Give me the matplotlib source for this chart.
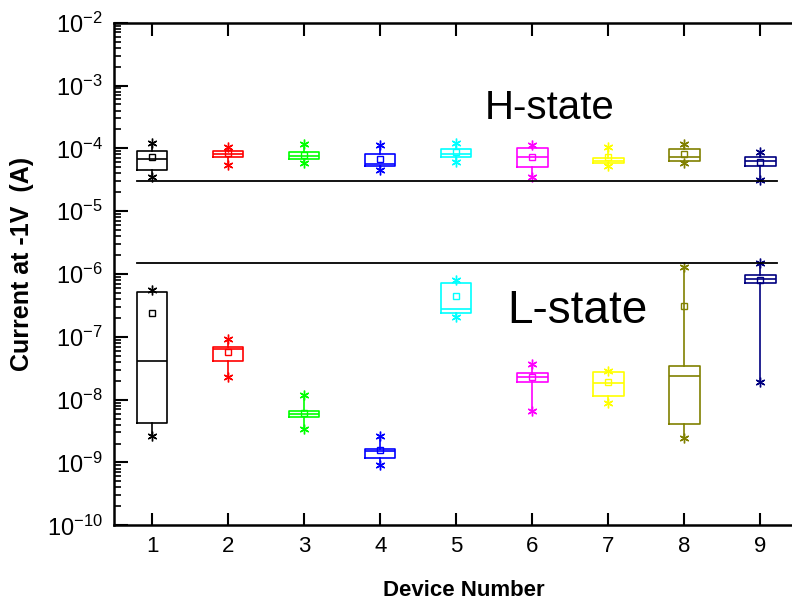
import numpy as np
import matplotlib
matplotlib.use("Agg")
import matplotlib.pyplot as plt
from matplotlib.ticker import LogLocator, NullFormatter

plt.rcParams['font.family'] = ['Liberation Sans', 'DejaVu Sans']
plt.rcParams['mathtext.default'] = 'regular'
plt.rcParams['axes.unicode_minus'] = False

devices = [1, 2, 3, 4, 5, 6, 7, 8, 9]
colors = ['black', 'red', '#00ff00', 'blue', 'cyan', 'magenta', 'yellow', '#808000', '#000080']

# H-state (A)
h_min = [3.5e-5, 5.4e-5, 5.8e-5, 4.5e-5, 6.1e-5, 3.45e-5, 5.3e-5, 5.8e-5, 3.1e-5]
h_q1 = [4.6e-5, 7.2e-5, 6.7e-5, 5.2e-5, 7.2e-5, 5.0e-5, 5.9e-5, 6.2e-5, 5.2e-5]
h_med = [6.8e-5, 8.0e-5, 7.6e-5, 5.6e-5, 8.0e-5, 7.2e-5, 6.4e-5, 7.4e-5, 6.2e-5]
h_q3 = [9.1e-5, 9.0e-5, 8.6e-5, 8.2e-5, 9.8e-5, 1.0e-4, 6.9e-5, 9.6e-5, 7.4e-5]
h_max = [1.21e-4, 1.06e-4, 1.17e-4, 1.13e-4, 1.2e-4, 1.13e-4, 1.04e-4, 1.17e-4, 8.6e-5]
h_mean = [7.3e-5, 8.3e-5, 7.9e-5, 6.7e-5, 8.8e-5, 7.3e-5, 7.2e-5, 8.2e-5, 6.1e-5]

# L-state (A)
l_min = [2.65e-9, 2.26e-8, 3.4e-9, 9.1e-10, 2.08e-7, 6.7e-9, 8.9e-9, 2.46e-9, 1.92e-8]
l_q1 = [4.3e-9, 4.1e-8, 5.3e-9, 1.18e-9, 2.38e-7, 1.88e-8, 1.14e-8, 4.1e-9, 7.2e-7]
l_med = [4.15e-8, 6.3e-8, 6.0e-9, 1.55e-9, 2.8e-7, 2.3e-8, 1.85e-8, 2.34e-8, 8.4e-7]
l_q3 = [5.2e-7, 6.85e-8, 6.7e-9, 1.65e-9, 7.2e-7, 2.67e-8, 2.74e-8, 3.38e-8, 9.7e-7]
l_max = [5.5e-7, 9.1e-8, 1.18e-8, 2.6e-9, 8.0e-7, 3.64e-8, 2.81e-8, 1.3e-6, 1.51e-6]
l_mean = [2.38e-7, 5.65e-8, 6.2e-9, 1.56e-9, 4.45e-7, 2.28e-8, 1.88e-8, 3.05e-7, 8.0e-7]

h_threshold = 3.0e-5
l_threshold = 1.5e-6

fig = plt.figure(figsize=(7.92, 6.08), dpi=100)
ax = fig.add_axes([114 / 792, 1 - 525.3 / 608, (798.5 - 114) / 792, (525.3 - 22.7) / 608])


def draw_boxes(mins, q1s, meds, q3s, maxs, means):
    for i, x in enumerate(devices):
        st = dict(whislo=mins[i], q1=q1s[i], med=meds[i], q3=q3s[i], whishi=maxs[i], fliers=[])
        c = colors[i]
        ax.bxp([st], positions=[x], widths=0.4, showcaps=False, showfliers=False,
               boxprops=dict(color=c, lw=1.2), medianprops=dict(color=c, lw=1.2),
               whiskerprops=dict(color=c, lw=1.2), manage_ticks=False)
        ax.plot([x, x], [mins[i], maxs[i]], ls='none', marker=(6, 2, 0), ms=7,
                mec=c, mew=1.0)
        ax.plot(x, means[i], ls='none', marker='s', ms=4.8, mfc='none', mec=c, mew=1.0)


draw_boxes(h_min, h_q1, h_med, h_q3, h_max, h_mean)
draw_boxes(l_min, l_q1, l_med, l_q3, l_max, l_mean)

ax.plot([0.8, 9.22], [h_threshold, h_threshold], color='black', lw=1.3)
ax.plot([0.8, 9.22], [l_threshold, l_threshold], color='black', lw=1.3)

ax.text(5.38, 2.93e-4, 'H-state', fontsize=29, ha='left', va='baseline')
ax.text(5.67, 1.65e-7, 'L-state', fontsize=33, ha='left', va='baseline')

ax.set_yscale('log')
ax.set_ylim(1e-10, 1e-2)
ax.set_xlim(0.5, 9.5)
ax.set_xticks(devices)
ax.yaxis.set_major_locator(LogLocator(base=10, numticks=20))
ax.yaxis.set_minor_locator(LogLocator(base=10, subs=np.arange(2, 10), numticks=100))
ax.yaxis.set_minor_formatter(NullFormatter())

for s in ax.spines.values():
    s.set_linewidth(1.8)

ax.tick_params(axis='x', which='major', direction='in', top=True, bottom=True,
               length=9, width=1.5, labelsize=16, pad=8)
ax.tick_params(axis='y', which='major', direction='in', left=True, right=False,
               length=10, width=1.5, labelsize=17, pad=8)
ax.tick_params(axis='y', which='minor', direction='in', left=True, right=False,
               length=5, width=1.2)

ax.set_xlabel('Device Number', fontsize=16, fontweight='bold')
ax.set_ylabel('Current at -1V  (A)', fontsize=18, fontweight='bold')
ax.xaxis.set_label_coords((464 - 114) / (798.5 - 114), -(590 - 525.3) / (525.3 - 22.7))
ax.yaxis.set_label_coords(-(114 - 22) / (798.5 - 114), 0.52)
ax.xaxis.label.set_va('center')
ax.yaxis.label.set_va('center')

fig.savefig('out.png', dpi=100)
